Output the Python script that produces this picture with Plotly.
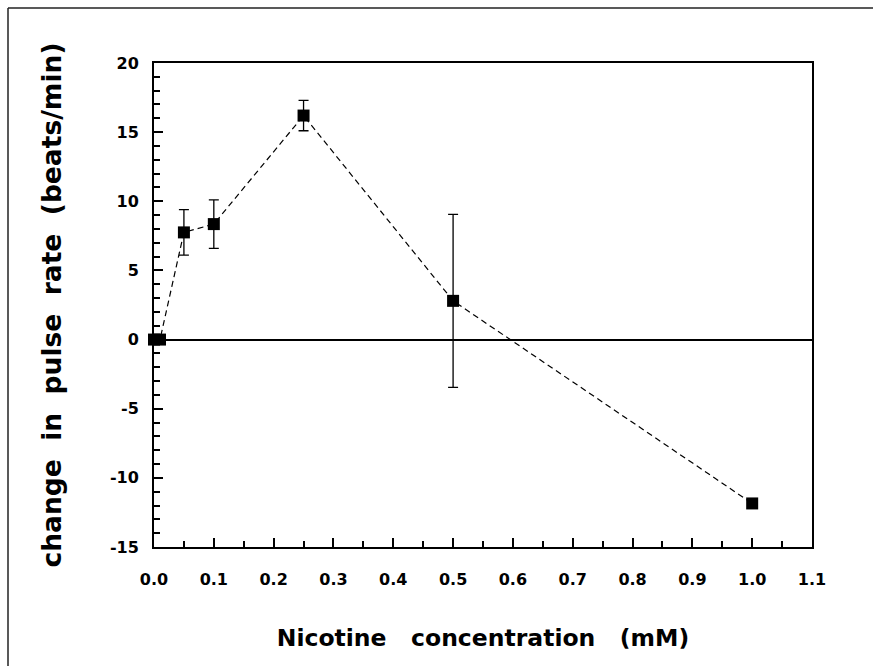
import plotly.graph_objects as go

# Data
conc = [0.0, 0.01, 0.05, 0.10, 0.25, 0.50, 1.00]          # Nicotine concentration (mM)
pulse_change = [0.0, 0.0, 7.75, 8.35, 16.2, 2.8, -11.85]  # change in pulse rate (beats/min)
pulse_err = [0.0, 0.0, 1.65, 1.75, 1.1, 6.25, 0.0]        # error bar half-length

x_ticks = [0.0, 0.1, 0.2, 0.3, 0.4, 0.5, 0.6, 0.7, 0.8, 0.9, 1.0, 1.1]
x_ticklabels = ["0.0", "0.1", "0.2", "0.3", "0.4", "0.5", "0.6", "0.7", "0.8", "0.9", "1.0", "1.1"]
y_ticks = [-15, -10, -5, 0, 5, 10, 15, 20]
y_ticklabels = ["-15", "-10", "-5", "0", "5", "10", "15", "20"]

FONT = "DejaVu Sans"
NB = "\u00a0"
XGAP = NB * 3
YGAP = NB * 2

fig = go.Figure()
fig.add_trace(go.Scatter(
    x=conc, y=pulse_change,
    mode="lines+markers",
    line=dict(color="black", width=1.2, dash="6px,4px"),
    marker=dict(symbol="square", size=12, color="black"),
    error_y=dict(type="data", array=pulse_err, visible=True,
                 color="black", thickness=1.3, width=5),
    cliponaxis=False,
    showlegend=False,
))

W, H = 873, 666
L, R, T, B = 154, 61, 63, 119
pw, ph = W - L - R, H - T - B
bx = (8 - L) / pw          # outer frame left edge (paper units)
by = (H - B - 8) / ph      # outer frame top edge (paper units)

fig.update_layout(
    width=W, height=H,
    margin=dict(l=L, r=R, t=T, b=B),
    paper_bgcolor="white", plot_bgcolor="white",
    font=dict(family=FONT, color="black"),
    xaxis=dict(
        range=[0, 1.1], tickmode="array", tickvals=x_ticks, ticktext=x_ticklabels,
        ticks="inside", ticklen=9, tickwidth=1.5, tickcolor="black",
        minor=dict(dtick=0.05, tick0=0, ticks="inside", ticklen=6, tickwidth=1.5, tickcolor="black"),
        showline=True, linewidth=2, linecolor="black", mirror=True,
        showgrid=False, zeroline=False,
        tickfont=dict(family=FONT, size=16, color="black", weight="bold"),
        ticklabelstandoff=17,
        title=dict(text=f"Nicotine{XGAP}concentration{XGAP}(mM)",
                   font=dict(family=FONT, size=23.5, color="black", weight="bold"),
                   standoff=41),
        automargin=False,
    ),
    yaxis=dict(
        range=[-15, 20], tickmode="array", tickvals=y_ticks, ticktext=y_ticklabels,
        ticks="inside", ticklen=9, tickwidth=1.5, tickcolor="black",
        minor=dict(dtick=1, tick0=0, ticks="inside", ticklen=6, tickwidth=1.5, tickcolor="black"),
        showline=True, linewidth=2, linecolor="black", mirror=True,
        showgrid=False,
        zeroline=True, zerolinecolor="black", zerolinewidth=2,
        tickfont=dict(family=FONT, size=16, color="black", weight="bold"),
        ticklabelstandoff=10,
        title=dict(text=f"change{YGAP}in{YGAP}pulse{YGAP}rate{YGAP}(beats/min)",
                   font=dict(family=FONT, size=26.5, color="black", weight="bold"),
                   standoff=41),
        automargin=False,
    ),
    shapes=[
        dict(type="line", xref="paper", yref="paper", x0=bx, x1=bx, y0=-0.4, y1=by,
             line=dict(color="#222", width=1.5), layer="below"),
        dict(type="line", xref="paper", yref="paper", x0=bx, x1=1.3, y0=by, y1=by,
             line=dict(color="#222", width=1.5), layer="below"),
    ],
)

fig.write_html(
    "out.html",
    config={"displayModeBar": False},
    post_script="document.body.style.margin='0';document.body.style.overflow='hidden';",
)
